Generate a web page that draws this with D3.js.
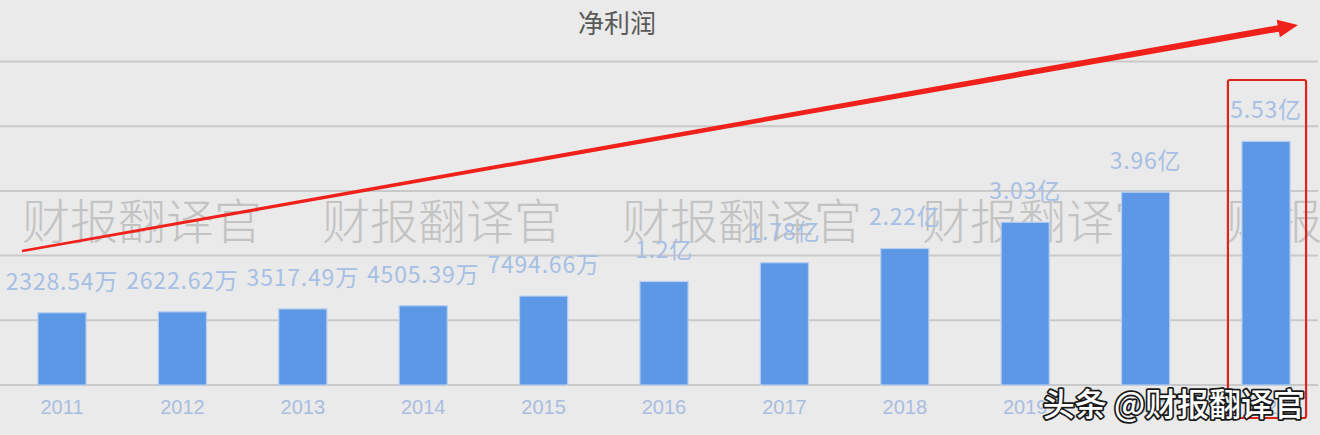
<!DOCTYPE html>
<html>
<head>
<meta charset="utf-8">
<script src="https://cdn.jsdelivr.net/npm/d3@7"></script>
<style>
html,body{margin:0;padding:0;background:#eaeaea;}
svg{display:block;}
</style>
</head>
<body>
<svg id="chart" width="1320" height="435"></svg>
<script>
const years = ["2011","2012","2013","2014","2015","2016","2017","2018","2019","2020","2021"];
const profitYi = [0.232854, 0.262262, 0.351749, 0.450539, 0.749466, 1.2, 1.78, 2.22, 3.03, 3.96, 5.53];
const valueLabels = ["2328.54万","2622.62万","3517.49万","4505.39万","7494.66万","1.2亿","1.78亿","2.22亿","3.03亿","3.96亿","5.53亿"];
const yTicks = [-2, 0, 2, 4, 6, 8];
const title = "净利润";
const watermark = "财报翻译官";
const credit = "头条 @财报翻译官";

const W = 1320, H = 435;
const svg = d3.select("#chart");
const font = "'Microsoft YaHei','Noto Sans CJK SC','Noto Sans',sans-serif";

svg.append("rect").attr("width", W).attr("height", H).attr("fill", "#eaeaea");

const x = d3.scaleBand().domain(years).range([1.8, 1326.2]).paddingInner(0.6).paddingOuter(0.3);
const y = d3.scaleLinear().domain([-2, 8]).range([385, 61.5]);

// gridlines
svg.append("g").selectAll("line").data(yTicks).join("line")
  .attr("x1", 0).attr("x2", 1318)
  .attr("y1", d => y(d)).attr("y2", d => y(d))
  .attr("stroke", "#c9c9c9").attr("stroke-width", 2);

// title
svg.append("text").attr("x", 617).attr("y", 33).attr("text-anchor", "middle")
  .attr("font-family", "'SimSun','Noto Sans CJK SC',sans-serif").attr("font-size", 26)
  .attr("fill", "#5a5a5a").text(title);

// watermark
const wmX = [22, 322, 622, 922, 1226];
svg.append("g").selectAll("text").data(wmX).join("text")
  .attr("x", d => d).attr("y", 239)
  .attr("font-family", font).attr("font-size", 48).attr("font-weight", 300)
  .attr("fill", "#c3c3c3").text(watermark);

// bars
svg.append("g").selectAll("rect").data(profitYi).join("rect")
  .attr("x", (d, i) => x(years[i]))
  .attr("width", x.bandwidth())
  .attr("y", d => y(d))
  .attr("height", d => y(-2) - y(d))
  .attr("fill", "#5c98e6")
  .attr("stroke", "#b8cff0").attr("stroke-width", 1.2);

// value labels
svg.append("g").selectAll("text").data(profitYi).join("text")
  .attr("x", (d, i) => x(years[i]) + x.bandwidth() / 2)
  .attr("y", d => y(d) - 23)
  .attr("text-anchor", "middle")
  .attr("font-family", font).attr("font-size", 23)
  .attr("letter-spacing", 0.8)
  .attr("fill", "#a6bfe4")
  .text((d, i) => valueLabels[i]);

// x axis labels
const xAxis = d3.axisBottom(x).tickSize(0).tickPadding(0);
const gx = svg.append("g").attr("transform", "translate(0,397)").call(xAxis);
gx.select(".domain").remove();
gx.selectAll("text").attr("font-family", "'Liberation Sans',Arial,sans-serif").attr("font-size", 20)
  .attr("fill", "#a9bde0").attr("dy", "0.85em");

// red arrow (tapered)
const ax0 = 22, ay0 = 251, ax1 = 1298, ay1 = 25;
const dx = ax1 - ax0, dy = ay1 - ay0, L = Math.hypot(dx, dy);
const ux = dx / L, uy = dy / L, px = -uy, py = ux;
const headLen = 20, headHalf = 9;
const bx = ax1 - ux * headLen, by = ay1 - uy * headLen;
const w0 = 1.2, w1 = 3.2;
const arrowPts = [
  [ax0 + px * w0, ay0 + py * w0],
  [bx + px * w1, by + py * w1],
  [bx + px * headHalf, by + py * headHalf],
  [ax1, ay1],
  [bx - px * headHalf, by - py * headHalf],
  [bx - px * w1, by - py * w1],
  [ax0 - px * w0, ay0 - py * w0]
];
svg.append("path").attr("d", d3.line()(arrowPts) + "Z").attr("fill", "#f0201a");

// red highlight box round last bar
const lastX = x(years[years.length - 1]);
svg.append("rect")
  .attr("x", lastX - 14).attr("y", 80)
  .attr("width", x.bandwidth() + 30).attr("height", 338)
  .attr("rx", 2)
  .attr("fill", "none").attr("stroke", "#e0221c").attr("stroke-width", 2.2);

// credit
svg.append("text").attr("x", 1305).attr("y", 416).attr("text-anchor", "end")
  .attr("font-family", font).attr("font-size", 32).attr("font-weight", 500)
  .attr("fill", "#ffffff").attr("stroke", "#1a1a1a").attr("stroke-width", 3.5)
  .attr("paint-order", "stroke").attr("stroke-linejoin", "round")
  .text(credit);
</script>
</body>
</html>
